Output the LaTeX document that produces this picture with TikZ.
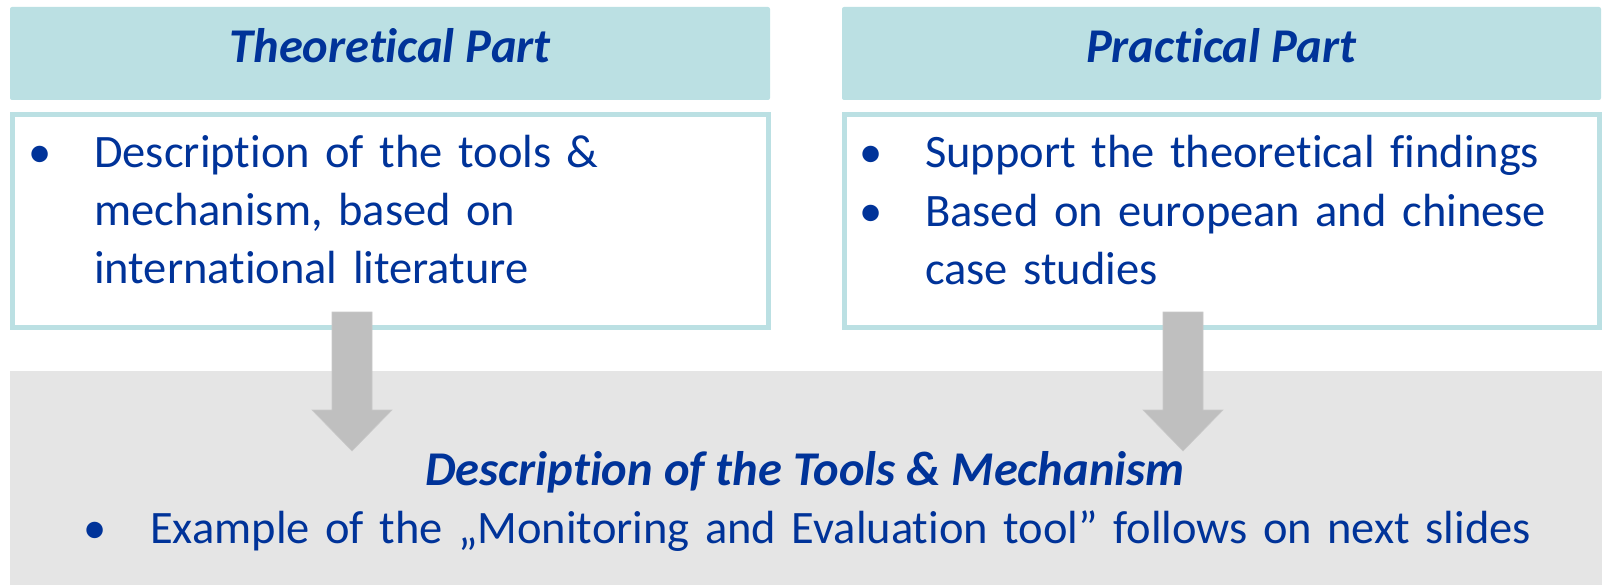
\documentclass[tikz,border=0pt]{standalone}
\usepackage{fontspec}
\setmainfont{Carlito}[Ligatures=NoCommon]
\usepackage{tikz}
\definecolor{headfill}{HTML}{BBE0E3}
\definecolor{darkblue}{HTML}{003399}
\definecolor{greyfill}{HTML}{E5E5E5}
\definecolor{arrowgrey}{HTML}{BFBFBF}
\newcommand{\bigtext}{\fontsize{46.5}{58}\selectfont}
\newcommand{\titletext}{\fontsize{48.5}{58}\selectfont\bfseries\itshape}

\begin{document}
\begin{tikzpicture}[
      x=1pt, y=-1pt,
      every node/.style={inner sep=0pt,text=darkblue,font=\bigtext},
      head/.style={fill=headfill,rounded corners=2pt},
      body/.style={draw=headfill,line width=5pt,fill=white},
      title/.style={anchor=base,font=\titletext},
      item/.style={anchor=base west,align=left,text width=#1},
      dot/.style={anchor=base},
      blockarrow/.style={fill=arrowgrey,draw=arrowgrey!85!white,line width=0.6pt}
    ]
      \useasboundingbox (0,0) rectangle (1602,585);
      % the two parts
      \fill[head] (10,7) rectangle (770,100);
      \fill[head] (842,7) rectangle (1601,100);
      \draw[body] (12.5,114.5) rectangle (768.5,327.5);
      \draw[body] (844.5,114.5) rectangle (1599.5,327.5);
      \node[title] (theo) at (390,63) {Theoretical Part};
      \node[title] (prac) at (1221,63) {Practical Part};
      \node[dot] (tdot) at (40,168) {•};
      \node[item=660pt] (titem) at (94,168) {Description of the tools \&\\mechanism, based on\\international literature};
      \node[dot] (pdot1) at (871,168) {•};
      \node[item=660pt] (pitem1) at (925,168) {Support the theoretical findings};
      \node[dot] (pdot2) at (871,227) {•};
      \node[item=660pt] (pitem2) at (925,227) {Based on european and chinese\\case studies};
      % result
      \fill[greyfill] (10,371) rectangle (1602,585);
      \coordinate (tarrow) at (352,312);
      \coordinate (parrow) at (1183,312);
      \foreach \c in {tarrow,parrow}
        \filldraw[blockarrow] (\c) ++(-20,0) -- ++(40,0) -- ++(0,98) -- ++(20,0)
          -- ++(-40,41) -- ++(-40,-41) -- ++(20,0) -- cycle;
      \node[title] (result) at (805,485) {Description of the Tools \& Mechanism};
      \node[dot] (rdot) at (95,543) {•};
      \node[item=1440pt] (ritem) at (150,543) {Example of the „Monitoring and Evaluation tool” follows on next slides};
    \end{tikzpicture}
\end{document}
